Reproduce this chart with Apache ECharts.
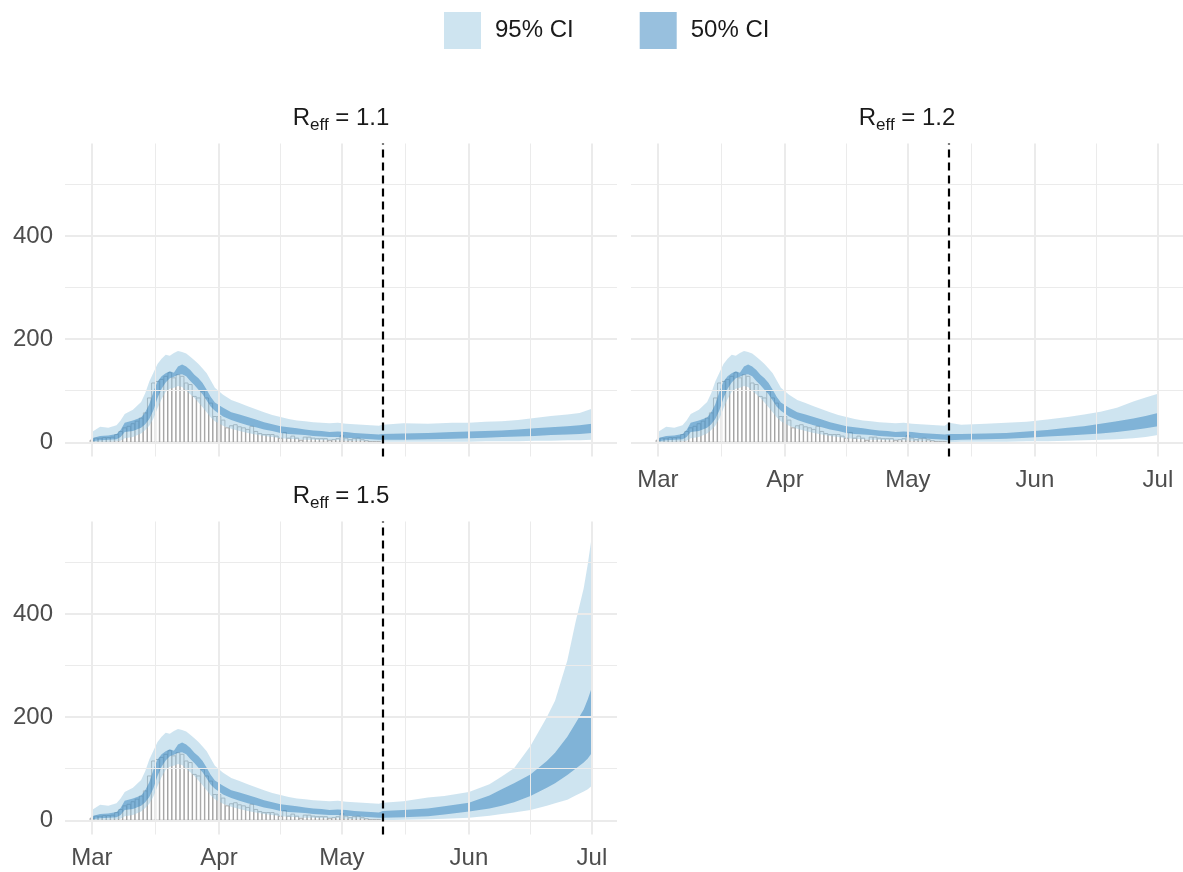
<!DOCTYPE html>
<html>
<head>
<meta charset="utf-8">
<script src="https://cdn.jsdelivr.net/npm/echarts@6/dist/echarts.min.js"></script>
<style>
  html, body { margin: 0; padding: 0; background: #ffffff; }
  #chart { width: 1183px; height: 872px; }
</style>
</head>
<body>
<div id="chart"></div>
<script>
// ---- data -------------------------------------------------------------
const DAY = 86400000;
const startDate = Date.UTC(2020, 2, 1);          // 1 March

// daily reported cases, one value per day from 1 March
const dailyCases = [4, 8, 8, 9, 9, 10, 15, 21, 28, 31, 36, 41, 47, 57, 86, 115, 118, 122, 128, 135,
  125, 131, 128, 115, 112, 89, 86, 99, 86, 76, 50, 50, 43, 28, 32, 34, 30, 28, 25, 31,
  21, 17, 15, 15, 15, 12, 8, 19, 8, 12, 8, 4, 10, 10, 8, 7, 7, 7, 4, 5,
  7, 13, 8, 5, 7, 8, 5, 3, 1, 1, 1];

// fitted period (days after 1 March) with credible bands
const fitDays  = [0, 2, 4, 6, 7, 8, 10, 12, 13, 14, 15, 16, 17, 18, 19, 20, 21, 22, 23, 24, 25, 26, 27, 28, 29, 30,
  32, 34, 36, 38, 40, 42, 44, 46, 48, 50, 52, 54, 56, 58, 60, 62, 64, 66, 68, 70];
const fitUp95  = [20, 30, 28, 33, 42, 55, 63, 78, 95, 118, 135, 152, 162, 170, 168, 173, 177, 175, 172, 166, 159, 152, 143, 134, 120, 106,
  92, 82, 76, 70, 64, 58, 53, 49, 45, 42, 41, 39, 38, 37, 38, 36, 35, 34, 33, 32];
const fitUp50  = [8, 12, 13, 16, 24, 38, 42, 48, 58, 74, 98, 118, 128, 134, 138, 135, 147, 151, 147, 140, 131, 124, 115, 102, 88, 77,
  67, 58, 54, 49, 44, 39, 35, 31, 29, 27, 25, 23, 22, 20, 21, 20, 18, 17, 16, 15];
const fitLo50  = [2, 4, 5, 6, 10, 20, 22, 28, 35, 45, 62, 86, 104, 116, 124, 127, 131, 132, 128, 119, 111, 102, 93, 81, 69, 61,
  50, 43, 38, 33, 29, 25, 22, 18, 16, 15, 14, 12, 11, 10, 10, 9, 8, 7, 6, 5];
const fitLo95  = [0, 1, 1, 2, 3, 8, 10, 17, 24, 32, 46, 66, 84, 98, 104, 106, 109, 107, 100, 93, 86, 77, 68, 58, 48, 41,
  32, 26, 22, 18, 15, 12, 10, 8, 7, 6, 5, 5, 4, 4, 4, 3, 3, 3, 2, 2];

// projections after 11 May for each scenario
const projDaysA  = [71, 76, 82, 88, 92, 96, 100, 104, 108, 112, 116, 119, 122];
const projUp95A  = [34, 37, 36, 38, 38, 40, 41, 43, 47, 51, 54, 57, 65];
const projUp50A  = [16, 17, 18, 20, 21, 22, 23, 25, 27, 29, 31, 33, 36];
const projLo50A  = [5, 5, 6, 7, 8, 9, 10, 11, 12, 14, 15, 16, 18];
const projLo95A  = [1, 1, 1, 1, 1, 2, 2, 2, 3, 3, 4, 4, 5];

const projDaysB  = [71, 74, 80, 85, 90, 95, 100, 104, 108, 112, 116, 119, 122];
const projUp95B  = [38, 34, 36, 38, 40, 44, 49, 54, 59, 67, 79, 87, 94];
const projUp50B  = [16, 16, 17, 18, 21, 24, 28, 31, 36, 41, 46, 51, 57];
const projLo50B  = [4, 5, 6, 7, 9, 11, 13, 15, 17, 20, 24, 27, 31];
const projLo95B  = [0, 1, 1, 1, 2, 2, 3, 4, 5, 6, 8, 10, 14];

const projDaysC  = [71, 76, 82, 86, 92, 97, 100, 103, 107, 111, 113, 116, 118, 120, 121, 122];
const projUp95C  = [34, 37, 44, 47, 55, 70, 85, 101, 144, 200, 232, 310, 384, 450, 497, 552];
const projUp50C  = [18, 20, 23, 27, 34, 48, 60, 72, 89, 115, 131, 162, 188, 215, 235, 258];
const projLo50C  = [5, 6, 8, 11, 17, 23, 28, 35, 47, 63, 72, 88, 100, 112, 120, 131];
const projLo95C  = [0, 1, 2, 3, 5, 9, 12, 15, 20, 28, 33, 40, 48, 56, 60, 67];

const facetValues = ['1.1', '1.2', '1.5'];
const interventionDay = 71;                      // 11 May
const monthTickDays = [0, 31, 61, 92, 122];
const monthLabels = ['Mar', 'Apr', 'May', 'Jun', 'Jul'];
const yTickValues = [0, 200, 400];
const yMinorValues = [100, 300, 500];

// ---- helpers ------------------------------------------------------------
const t = d => startDate + d * DAY;
const FONT = 'Liberation Sans, Arial, sans-serif';

const scenarios = [
  { days: projDaysA, up95: projUp95A, up50: projUp50A, lo50: projLo50A, lo95: projLo95A },
  { days: projDaysB, up95: projUp95B, up50: projUp50B, lo50: projLo50B, lo95: projLo95B },
  { days: projDaysC, up95: projUp95C, up50: projUp50C, lo50: projLo50C, lo95: projLo95C }
];

// shared scales with 5% padding like a faceted plot
const allUpper = [].concat(fitUp95, projUp95A, projUp95B, projUp95C);
const yDataMax = Math.max.apply(null, allUpper);
const yMin = -0.05 * yDataMax, yMax = 1.05 * yDataMax;
const xLo = -0.45, xHi = 122;
const xPad = 0.05 * (xHi - xLo);
const xMin = t(xLo - xPad), xMax = t(xHi + xPad);
const monthTickTimes = monthTickDays.map(t);

const COL95 = 'rgba(158,202,225,0.5)';
const COL50 = 'rgba(49,130,189,0.5)';

const panels = [
  { left: 65,  top: 143.5, showX: false, showY: true },
  { left: 631, top: 143.5, showX: true,  showY: false },
  { left: 65,  top: 521.5, showX: true,  showY: true }
];
const PW = 552, PH = 313;

const grid = [], xAxis = [], yAxis = [], series = [], title = [];

panels.forEach((p, gi) => {
  grid.push({ left: p.left, top: p.top, width: PW, height: PH, containLabel: false });
  xAxis.push({
    type: 'value', gridIndex: gi, min: xMin, max: xMax,
    axisLine: { show: false }, axisTick: { show: false }, splitLine: { show: false },
    axisLabel: {
      show: p.showX, customValues: monthTickTimes, margin: 12,
      fontSize: 24, color: '#4d4d4d', fontFamily: FONT,
      formatter: v => {
        const k = monthTickTimes.findIndex(m => Math.abs(m - v) < DAY / 2);
        return k >= 0 ? monthLabels[k] : '';
      }
    }
  });
  yAxis.push({
    type: 'value', gridIndex: gi, min: yMin, max: yMax,
    axisLine: { show: false }, axisTick: { show: false }, splitLine: { show: false },
    axisLabel: {
      show: p.showY, customValues: yTickValues, margin: 12,
      fontSize: 24, color: '#4d4d4d', fontFamily: FONT
    }
  });

  // panel grid lines
  const gridLines = [];
  yTickValues.forEach(v => gridLines.push({ yAxis: v, lineStyle: { width: 2 } }));
  yMinorValues.forEach(v => gridLines.push({ yAxis: v, lineStyle: { width: 1 } }));
  monthTickTimes.forEach(m => gridLines.push({ xAxis: m, lineStyle: { width: 2 } }));
  for (let i = 0; i < monthTickDays.length - 1; i++) {
    gridLines.push({ xAxis: t((monthTickDays[i] + monthTickDays[i + 1]) / 2), lineStyle: { width: 1 } });
  }
  series.push({
    type: 'line', xAxisIndex: gi, yAxisIndex: gi, data: [], z: 0, silent: true,
    markLine: {
      silent: true, symbol: ['none', 'none'], animation: false,
      label: { show: false },
      lineStyle: { color: '#ebebeb', type: 'solid' },
      data: gridLines
    }
  });

  // daily case bars
  series.push({
    type: 'custom', xAxisIndex: gi, yAxisIndex: gi, z: 1, silent: true, animation: false,
    data: dailyCases.map((v, i) => [t(i), v]),
    renderItem(params, api) {
      const x = api.value(0), v = api.value(1);
      const a = api.coord([x - 0.45 * DAY, v]);
      const b = api.coord([x + 0.45 * DAY, 0]);
      return {
        type: 'rect',
        shape: { x: a[0], y: a[1], width: b[0] - a[0], height: b[1] - a[1] },
        style: { fill: '#ffffff', stroke: '#9c9c9c', lineWidth: 0.9 }
      };
    }
  });

  // credible bands: fitted period followed by the projection
  const sc = scenarios[gi];
  const days = fitDays.concat(sc.days);
  const bands = [
    { name: '95% CI', up: fitUp95.concat(sc.up95), lo: fitLo95.concat(sc.lo95), color: COL95, z: 2 },
    { name: '50% CI', up: fitUp50.concat(sc.up50), lo: fitLo50.concat(sc.lo50), color: COL50, z: 3 }
  ];
  bands.forEach(b => {
    series.push({
      type: 'custom', name: b.name, xAxisIndex: gi, yAxisIndex: gi, z: b.z,
      silent: true, animation: false, clip: true,
      itemStyle: { color: b.color },
      data: [[t(0), 0]],
      renderItem(params, api) {
        const pts = [];
        for (let i = 0; i < days.length; i++) pts.push(api.coord([t(days[i]), b.up[i]]));
        for (let i = days.length - 1; i >= 0; i--) pts.push(api.coord([t(days[i]), b.lo[i]]));
        return { type: 'polygon', shape: { points: pts }, style: { fill: b.color } };
      }
    });
  });

  // intervention date
  series.push({
    type: 'line', xAxisIndex: gi, yAxisIndex: gi, data: [], z: 4, silent: true,
    markLine: {
      silent: true, symbol: ['none', 'none'], animation: false,
      label: { show: false },
      lineStyle: { color: '#000000', width: 2.2, type: [8, 5] },
      data: [{ xAxis: t(interventionDay) }]
    }
  });

  // facet strip
  title.push({
    text: '{r|R}{s|eff}{r| = ' + facetValues[gi] + '}',
    left: p.left + PW / 2, top: p.top - 40, textAlign: 'center', padding: 0,
    textStyle: {
      fontWeight: 'normal',
      rich: {
        r: { fontSize: 24, fontWeight: 'normal', color: '#1a1a1a', fontFamily: FONT },
        s: { fontSize: 17, fontWeight: 'normal', color: '#1a1a1a', fontFamily: FONT, padding: [13, 0, 0, 0] }
      }
    }
  });
});

const chart = echarts.init(document.getElementById('chart'), null, { renderer: 'canvas' });
chart.setOption({
  animation: false,
  backgroundColor: '#ffffff',
  textStyle: { fontFamily: FONT },
  title,
  legend: {
    data: ['95% CI', '50% CI'], left: 444, top: 12, padding: 0, icon: 'rect',
    itemWidth: 37, itemHeight: 37, itemGap: 66, selectedMode: false,
    textStyle: { fontSize: 24, color: '#1a1a1a', fontFamily: FONT, padding: [6, 0, 0, 9] }
  },
  grid, xAxis, yAxis, series
});
</script>
</body>
</html>
